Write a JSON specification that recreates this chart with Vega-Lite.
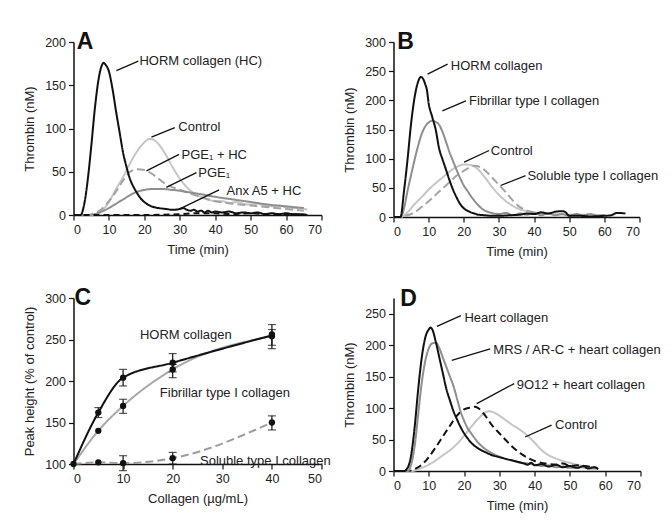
{
 "$schema": "https://vega.github.io/schema/vega-lite/v6.json",
 "columns": 2,
 "spacing": {"row": 81, "column": 72},
 "bounds": "flush",
 "padding": {"left": 23.5, "top": 31, "right": 0, "bottom": 0},
 "background": "white",
 "resolve": {"scale": {"color": "independent", "strokeDash": "independent"}},
 "config": {
  "font": "Liberation Sans",
  "view": {"stroke": null},
  "axis": {"grid": false, "domainColor": "#111", "domainWidth": 1.5, "tickColor": "#111", "tickWidth": 1.2, "tickSize": 5, "labelFontSize": 12.5, "labelColor": "#222", "labelFont": "Liberation Sans", "titleFont": "Liberation Sans", "titleFontSize": 13, "titleFontWeight": "normal", "titleColor": "#222", "labelPadding": 3, "titlePadding": 8, "labelOverlap": false},
  "text": {"font": "Liberation Sans", "fontSize": 13, "color": "#222"},
  "rule": {"color": "#111", "strokeWidth": 1.3}
 },
 "concat": [
  {
   "width": 248, "height": 173,
   "encoding": {
    "x": {"field": "x", "type": "quantitative", "title": "Time (min)", "scale": {"domain": [0, 70], "nice": false}, "axis": {"values": [0,10,20,30,40,50,60,70]}},
    "y": {"field": "y", "type": "quantitative", "title": "Thrombin (nM)", "scale": {"domain": [0, 200], "nice": false}, "axis": {"values": [0,50,100,150,200]}}
   },
   "layer": [
    {
     "data": {"values": [
      {"s":"A Control","x":0,"y":0},{"s":"A Control","x":5,"y":0},{"s":"A Control","x":8,"y":5},{"s":"A Control","x":10,"y":15},{"s":"A Control","x":12,"y":30},{"s":"A Control","x":14,"y":44},{"s":"A Control","x":16,"y":60},{"s":"A Control","x":18,"y":74},{"s":"A Control","x":20,"y":84},{"s":"A Control","x":21.5,"y":88},{"s":"A Control","x":23,"y":86},{"s":"A Control","x":24,"y":82},{"s":"A Control","x":26,"y":70},{"s":"A Control","x":28,"y":55},{"s":"A Control","x":30,"y":42},{"s":"A Control","x":32,"y":32},{"s":"A Control","x":34,"y":25},{"s":"A Control","x":36,"y":21},{"s":"A Control","x":38,"y":18},{"s":"A Control","x":40,"y":16},{"s":"A Control","x":42,"y":16},{"s":"A Control","x":44,"y":14},{"s":"A Control","x":46,"y":15},{"s":"A Control","x":48,"y":13},{"s":"A Control","x":50,"y":12},{"s":"A Control","x":52,"y":13},{"s":"A Control","x":54,"y":11},{"s":"A Control","x":56,"y":10},{"s":"A Control","x":58,"y":11},{"s":"A Control","x":60,"y":9},{"s":"A Control","x":62,"y":8},{"s":"A Control","x":64,"y":8},{"s":"A Control","x":66,"y":6},
      {"s":"PGE1 + HC","x":0,"y":0},{"s":"PGE1 + HC","x":4,"y":0},{"s":"PGE1 + HC","x":6,"y":2},{"s":"PGE1 + HC","x":8,"y":7},{"s":"PGE1 + HC","x":10,"y":16},{"s":"PGE1 + HC","x":12,"y":27},{"s":"PGE1 + HC","x":14,"y":40},{"s":"PGE1 + HC","x":16,"y":50},{"s":"PGE1 + HC","x":18,"y":53},{"s":"PGE1 + HC","x":20,"y":52},{"s":"PGE1 + HC","x":22,"y":48},{"s":"PGE1 + HC","x":24,"y":42},{"s":"PGE1 + HC","x":26,"y":36},{"s":"PGE1 + HC","x":28,"y":32},{"s":"PGE1 + HC","x":30,"y":29},{"s":"PGE1 + HC","x":32,"y":26},{"s":"PGE1 + HC","x":35,"y":22},{"s":"PGE1 + HC","x":38,"y":18},{"s":"PGE1 + HC","x":40,"y":16},{"s":"PGE1 + HC","x":45,"y":13},{"s":"PGE1 + HC","x":50,"y":11},{"s":"PGE1 + HC","x":55,"y":9},{"s":"PGE1 + HC","x":60,"y":7},{"s":"PGE1 + HC","x":65,"y":5},
      {"s":"PGE1","x":0,"y":0},{"s":"PGE1","x":4,"y":0},{"s":"PGE1","x":6,"y":1},{"s":"PGE1","x":8,"y":4},{"s":"PGE1","x":10,"y":8},{"s":"PGE1","x":12,"y":13},{"s":"PGE1","x":14,"y":18},{"s":"PGE1","x":16,"y":23},{"s":"PGE1","x":18,"y":27},{"s":"PGE1","x":20,"y":29},{"s":"PGE1","x":22,"y":30},{"s":"PGE1","x":25,"y":30},{"s":"PGE1","x":28,"y":29},{"s":"PGE1","x":30,"y":28},{"s":"PGE1","x":33,"y":26},{"s":"PGE1","x":36,"y":24},{"s":"PGE1","x":40,"y":21},{"s":"PGE1","x":45,"y":18},{"s":"PGE1","x":50,"y":15},{"s":"PGE1","x":55,"y":12},{"s":"PGE1","x":60,"y":10},{"s":"PGE1","x":65,"y":8},
      {"s":"Anx A5 + HC","x":0,"y":0},{"s":"Anx A5 + HC","x":10,"y":0},{"s":"Anx A5 + HC","x":20,"y":0},{"s":"Anx A5 + HC","x":30,"y":1},{"s":"Anx A5 + HC","x":35,"y":2},{"s":"Anx A5 + HC","x":40,"y":2},{"s":"Anx A5 + HC","x":45,"y":1},{"s":"Anx A5 + HC","x":50,"y":2},{"s":"Anx A5 + HC","x":55,"y":1},{"s":"Anx A5 + HC","x":60,"y":1},{"s":"Anx A5 + HC","x":65,"y":0},
      {"s":"A HORM","x":0,"y":0},{"s":"A HORM","x":2,"y":0},{"s":"A HORM","x":3,"y":12},{"s":"A HORM","x":4,"y":40},{"s":"A HORM","x":5,"y":79},{"s":"A HORM","x":6,"y":122},{"s":"A HORM","x":7,"y":155},{"s":"A HORM","x":8,"y":173},{"s":"A HORM","x":8.5,"y":176},{"s":"A HORM","x":9,"y":174},{"s":"A HORM","x":10,"y":166},{"s":"A HORM","x":11,"y":146},{"s":"A HORM","x":12,"y":120},{"s":"A HORM","x":13,"y":96},{"s":"A HORM","x":14,"y":72},{"s":"A HORM","x":15,"y":55},{"s":"A HORM","x":16,"y":41},{"s":"A HORM","x":17,"y":32},{"s":"A HORM","x":18,"y":25},{"s":"A HORM","x":19,"y":19},{"s":"A HORM","x":20,"y":15},{"s":"A HORM","x":21,"y":12},{"s":"A HORM","x":22,"y":10},{"s":"A HORM","x":24,"y":8},{"s":"A HORM","x":26,"y":7},{"s":"A HORM","x":28,"y":6},{"s":"A HORM","x":30,"y":7},{"s":"A HORM","x":31,"y":8},{"s":"A HORM","x":32,"y":6},{"s":"A HORM","x":33,"y":5},{"s":"A HORM","x":34,"y":6},{"s":"A HORM","x":35,"y":4},{"s":"A HORM","x":36,"y":5},{"s":"A HORM","x":37,"y":3},{"s":"A HORM","x":38,"y":5},{"s":"A HORM","x":39,"y":3},{"s":"A HORM","x":40,"y":4},{"s":"A HORM","x":42,"y":3},{"s":"A HORM","x":44,"y":4},{"s":"A HORM","x":46,"y":2},{"s":"A HORM","x":48,"y":3},{"s":"A HORM","x":50,"y":2},{"s":"A HORM","x":52,"y":3},{"s":"A HORM","x":54,"y":1},{"s":"A HORM","x":56,"y":2},{"s":"A HORM","x":58,"y":1},{"s":"A HORM","x":60,"y":2},{"s":"A HORM","x":62,"y":1},{"s":"A HORM","x":64,"y":1},{"s":"A HORM","x":66,"y":0}
     ]},
     "mark": {"type": "line", "strokeWidth": 2, "interpolate": "monotone"},
     "encoding": {
      "color": {"field": "s", "type": "nominal", "legend": null, "scale": {"domain": ["A Control","PGE1 + HC","PGE1","Anx A5 + HC","A HORM"], "range": ["#c6c6c6","#a4a4a4","#8e8e8e","#111111","#111111"]}},
      "strokeDash": {"field": "s", "type": "nominal", "legend": null, "scale": {"domain": ["A Control","PGE1 + HC","PGE1","Anx A5 + HC","A HORM"], "range": [[1,0],[8,4],[1,0],[6,4],[1,0]]}}
     }
    },
    {
     "data": {"values": [
      {"x":12.1,"y":167,"x2":18.3,"y2":178},
      {"x":22.0,"y":90,"x2":28.6,"y2":101},
      {"x":20.6,"y":51,"x2":29.8,"y2":70},
      {"x":26.2,"y":32,"x2":34.7,"y2":49},
      {"x":30,"y":7,"x2":41.1,"y2":29}
     ]},
     "mark": {"type": "rule"},
     "encoding": {"x2": {"field": "x2"}, "y2": {"field": "y2"}}
    },
    {
     "data": {"values": [
      {"x":18.6,"y":178,"label":"HORM collagen (HC)"},
      {"x":29.6,"y":102,"label":"Control"},
      {"x":30.5,"y":69,"label":"PGE₁ + HC"},
      {"x":35.2,"y":49,"label":"PGE₁"},
      {"x":43.2,"y":28,"label":"Anx A5 + HC"}
     ]},
     "mark": {"type": "text", "align": "left", "baseline": "middle"},
     "encoding": {"text": {"field": "label"}}
    },
    {
     "data": {"values": [{"x":0.9,"y":200,"label":"A"}]},
     "mark": {"type": "text", "align": "left", "baseline": "middle", "fontSize": 23, "fontWeight": "bold", "color": "#111"},
     "encoding": {"text": {"field": "label"}}
    }
   ]
  },
  {
   "width": 246, "height": 175,
   "encoding": {
    "x": {"field": "x", "type": "quantitative", "title": "Time (min)", "scale": {"domain": [0, 70], "nice": false}, "axis": {"values": [0,10,20,30,40,50,60,70]}},
    "y": {"field": "y", "type": "quantitative", "title": "Thrombin (nM)", "scale": {"domain": [0, 300], "nice": false}, "axis": {"values": [0,50,100,150,200,250,300]}}
   },
   "layer": [
    {
     "data": {"values": [
      {"s":"B Control","x":0,"y":0},{"s":"B Control","x":2,"y":0},{"s":"B Control","x":4,"y":8},{"s":"B Control","x":6,"y":22},{"s":"B Control","x":8,"y":34},{"s":"B Control","x":10,"y":47},{"s":"B Control","x":12,"y":58},{"s":"B Control","x":14,"y":68},{"s":"B Control","x":16,"y":78},{"s":"B Control","x":18,"y":86},{"s":"B Control","x":20,"y":90},{"s":"B Control","x":22,"y":89},{"s":"B Control","x":24,"y":82},{"s":"B Control","x":26,"y":68},{"s":"B Control","x":28,"y":52},{"s":"B Control","x":30,"y":38},{"s":"B Control","x":32,"y":27},{"s":"B Control","x":34,"y":19},{"s":"B Control","x":36,"y":13},{"s":"B Control","x":38,"y":10},{"s":"B Control","x":40,"y":8},{"s":"B Control","x":43,"y":6},{"s":"B Control","x":46,"y":5},{"s":"B Control","x":50,"y":4},{"s":"B Control","x":55,"y":4},{"s":"B Control","x":60,"y":3},
      {"s":"B Soluble","x":0,"y":0},{"s":"B Soluble","x":2,"y":0},{"s":"B Soluble","x":4,"y":3},{"s":"B Soluble","x":6,"y":8},{"s":"B Soluble","x":8,"y":17},{"s":"B Soluble","x":10,"y":27},{"s":"B Soluble","x":12,"y":38},{"s":"B Soluble","x":14,"y":49},{"s":"B Soluble","x":16,"y":60},{"s":"B Soluble","x":18,"y":71},{"s":"B Soluble","x":20,"y":79},{"s":"B Soluble","x":22,"y":86},{"s":"B Soluble","x":23,"y":88},{"s":"B Soluble","x":24,"y":87},{"s":"B Soluble","x":26,"y":80},{"s":"B Soluble","x":28,"y":68},{"s":"B Soluble","x":30,"y":55},{"s":"B Soluble","x":32,"y":42},{"s":"B Soluble","x":34,"y":28},{"s":"B Soluble","x":36,"y":17},{"s":"B Soluble","x":38,"y":11},{"s":"B Soluble","x":40,"y":8},{"s":"B Soluble","x":43,"y":6},{"s":"B Soluble","x":45,"y":5},
      {"s":"B Fibrillar","x":0,"y":0},{"s":"B Fibrillar","x":2,"y":0},{"s":"B Fibrillar","x":3,"y":15},{"s":"B Fibrillar","x":4,"y":45},{"s":"B Fibrillar","x":5,"y":72},{"s":"B Fibrillar","x":6,"y":98},{"s":"B Fibrillar","x":7,"y":122},{"s":"B Fibrillar","x":8,"y":142},{"s":"B Fibrillar","x":9,"y":155},{"s":"B Fibrillar","x":10,"y":162},{"s":"B Fibrillar","x":11,"y":165},{"s":"B Fibrillar","x":12,"y":163},{"s":"B Fibrillar","x":13,"y":158},{"s":"B Fibrillar","x":14,"y":145},{"s":"B Fibrillar","x":15,"y":128},{"s":"B Fibrillar","x":16,"y":110},{"s":"B Fibrillar","x":17,"y":95},{"s":"B Fibrillar","x":18,"y":80},{"s":"B Fibrillar","x":19,"y":66},{"s":"B Fibrillar","x":20,"y":54},{"s":"B Fibrillar","x":21,"y":45},{"s":"B Fibrillar","x":22,"y":36},{"s":"B Fibrillar","x":23,"y":28},{"s":"B Fibrillar","x":24,"y":21},{"s":"B Fibrillar","x":25,"y":15},{"s":"B Fibrillar","x":26,"y":11},{"s":"B Fibrillar","x":28,"y":7},{"s":"B Fibrillar","x":30,"y":5},{"s":"B Fibrillar","x":32,"y":7},{"s":"B Fibrillar","x":34,"y":3},{"s":"B Fibrillar","x":36,"y":6},{"s":"B Fibrillar","x":38,"y":4},{"s":"B Fibrillar","x":40,"y":7},{"s":"B Fibrillar","x":42,"y":3},{"s":"B Fibrillar","x":44,"y":6},{"s":"B Fibrillar","x":46,"y":3},{"s":"B Fibrillar","x":48,"y":5},{"s":"B Fibrillar","x":50,"y":2},{"s":"B Fibrillar","x":52,"y":5},{"s":"B Fibrillar","x":54,"y":3},{"s":"B Fibrillar","x":56,"y":5},{"s":"B Fibrillar","x":58,"y":2},{"s":"B Fibrillar","x":60,"y":4},
      {"s":"B HORM","x":0,"y":0},{"s":"B HORM","x":2,"y":0},{"s":"B HORM","x":3,"y":45},{"s":"B HORM","x":4,"y":99},{"s":"B HORM","x":5,"y":160},{"s":"B HORM","x":6,"y":205},{"s":"B HORM","x":7,"y":232},{"s":"B HORM","x":7.8,"y":240},{"s":"B HORM","x":8.5,"y":236},{"s":"B HORM","x":9,"y":228},{"s":"B HORM","x":9.5,"y":218},{"s":"B HORM","x":10,"y":195},{"s":"B HORM","x":11,"y":172},{"s":"B HORM","x":12,"y":150},{"s":"B HORM","x":13,"y":117},{"s":"B HORM","x":14,"y":98},{"s":"B HORM","x":15,"y":80},{"s":"B HORM","x":16,"y":62},{"s":"B HORM","x":17,"y":46},{"s":"B HORM","x":18,"y":33},{"s":"B HORM","x":19,"y":22},{"s":"B HORM","x":20,"y":15},{"s":"B HORM","x":21,"y":11},{"s":"B HORM","x":22,"y":8},{"s":"B HORM","x":23,"y":6},{"s":"B HORM","x":24,"y":4},{"s":"B HORM","x":26,"y":3},{"s":"B HORM","x":28,"y":2},{"s":"B HORM","x":30,"y":2},{"s":"B HORM","x":33,"y":3},{"s":"B HORM","x":36,"y":4},{"s":"B HORM","x":38,"y":6},{"s":"B HORM","x":40,"y":5},{"s":"B HORM","x":42,"y":8},{"s":"B HORM","x":44,"y":6},{"s":"B HORM","x":46,"y":9},{"s":"B HORM","x":48,"y":10},{"s":"B HORM","x":49,"y":8},{"s":"B HORM","x":50,"y":2},{"s":"B HORM","x":53,"y":2},{"s":"B HORM","x":56,"y":1},{"s":"B HORM","x":60,"y":2},{"s":"B HORM","x":62,"y":3},{"s":"B HORM","x":63,"y":6},{"s":"B HORM","x":64,"y":7},{"s":"B HORM","x":66,"y":6}
     ]},
     "mark": {"type": "line", "strokeWidth": 2, "interpolate": "monotone"},
     "encoding": {
      "color": {"field": "s", "type": "nominal", "legend": null, "scale": {"domain": ["B Control","B Soluble","B Fibrillar","B HORM"], "range": ["#c6c6c6","#a4a4a4","#8e8e8e","#111111"]}},
      "strokeDash": {"field": "s", "type": "nominal", "legend": null, "scale": {"domain": ["B Control","B Soluble","B Fibrillar","B HORM"], "range": [[1,0],[8,4],[1,0],[1,0]]}}
     }
    },
    {
     "data": {"values": [
      {"x":9.7,"y":245,"x2":15.4,"y2":262},
      {"x":13.9,"y":182,"x2":20.6,"y2":199},
      {"x":20.1,"y":94,"x2":27.2,"y2":114},
      {"x":30.5,"y":54,"x2":37.6,"y2":71}
     ]},
     "mark": {"type": "rule"},
     "encoding": {"x2": {"field": "x2"}, "y2": {"field": "y2"}}
    },
    {
     "data": {"values": [
      {"x":16.3,"y":259,"label":"HORM collagen"},
      {"x":21.5,"y":199,"label":"Fibrillar type I collagen"},
      {"x":27.7,"y":114,"label":"Control"},
      {"x":38.1,"y":71,"label":"Soluble type I collagen"}
     ]},
     "mark": {"type": "text", "align": "left", "baseline": "middle"},
     "encoding": {"text": {"field": "label"}}
    },
    {
     "data": {"values": [{"x":1.1,"y":300,"label":"B"}]},
     "mark": {"type": "text", "align": "left", "baseline": "middle", "fontSize": 23, "fontWeight": "bold", "color": "#111"},
     "encoding": {"text": {"field": "label"}}
    }
   ]
  },
  {
   "width": 248, "height": 166,
   "encoding": {
    "x": {"field": "x", "type": "quantitative", "title": "Collagen (µg/mL)", "scale": {"domain": [0, 50], "nice": false}, "axis": {"values": [0,10,20,30,40,50]}},
    "y": {"field": "y", "type": "quantitative", "title": "Peak height (% of control)", "scale": {"domain": [100, 300], "nice": false, "zero": false}, "axis": {"values": [100,150,200,250,300]}}
   },
   "layer": [
    {
     "data": {"values": [
      {"s":"C Soluble","x":0,"y":100},{"s":"C Soluble","x":5,"y":102},{"s":"C Soluble","x":10,"y":101},{"s":"C Soluble","x":20,"y":107},{"s":"C Soluble","x":40,"y":150},
      {"s":"C Fibrillar","x":0,"y":100},{"s":"C Fibrillar","x":5,"y":140},{"s":"C Fibrillar","x":10,"y":170},{"s":"C Fibrillar","x":20,"y":214},{"s":"C Fibrillar","x":40,"y":254},
      {"s":"C HORM","x":0,"y":100},{"s":"C HORM","x":5,"y":162},{"s":"C HORM","x":10,"y":204},{"s":"C HORM","x":20,"y":222},{"s":"C HORM","x":40,"y":255}
     ]},
     "mark": {"type": "line", "strokeWidth": 2, "interpolate": "monotone"},
     "encoding": {
      "color": {"field": "s", "type": "nominal", "legend": null, "scale": {"domain": ["C Soluble","C Fibrillar","C HORM"], "range": ["#9c9c9c","#a8a8a8","#111111"]}},
      "strokeDash": {"field": "s", "type": "nominal", "legend": null, "scale": {"domain": ["C Soluble","C Fibrillar","C HORM"], "range": [[8,4],[1,0],[1,0]]}}
     }
    },
    {
     "data": {"values": [
      {"x":5,"y":156,"y2":168},{"x":10,"y":194,"y2":214},{"x":20,"y":211,"y2":233},{"x":40,"y":243,"y2":268},
      {"x":10,"y":161,"y2":178},{"x":20,"y":204,"y2":220},{"x":40,"y":239,"y2":262},
      {"x":10,"y":92,"y2":110},{"x":20,"y":100,"y2":114},{"x":40,"y":141,"y2":158}
     ]},
     "mark": {"type": "rule", "color": "#111", "strokeWidth": 1.2},
     "encoding": {"y2": {"field": "y2"}}
    },
    {
     "data": {"values": [
      {"x":5,"y":156},{"x":10,"y":194},{"x":20,"y":211},{"x":40,"y":243},
      {"x":5,"y":168},{"x":10,"y":214},{"x":20,"y":233},{"x":40,"y":268},
      {"x":10,"y":161},{"x":20,"y":204},{"x":40,"y":239},
      {"x":10,"y":178},{"x":20,"y":220},{"x":40,"y":262},
      {"x":10,"y":92},{"x":20,"y":100},{"x":40,"y":141},
      {"x":10,"y":110},{"x":20,"y":114},{"x":40,"y":158}
     ]},
     "mark": {"type": "tick", "orient": "horizontal", "color": "#111", "size": 8, "thickness": 1.2},
     "encoding": {}
    },
    {
     "data": {"values": [
      {"x":0,"y":100},{"x":5,"y":102},{"x":10,"y":101},{"x":20,"y":107},{"x":40,"y":150},
      {"x":5,"y":140},{"x":10,"y":170},{"x":20,"y":214},{"x":40,"y":254},
      {"x":5,"y":162},{"x":10,"y":204},{"x":20,"y":222},{"x":40,"y":256}
     ]},
     "mark": {"type": "point", "filled": true, "color": "#111", "size": 40, "opacity": 1},
     "encoding": {}
    },
    {
     "data": {"values": [
      {"x":13.4,"y":255,"label":"HORM collagen"},
      {"x":17.4,"y":185,"label":"Fibrillar type I collagen"},
      {"x":25.5,"y":104,"label":"Soluble type I collagen"}
     ]},
     "mark": {"type": "text", "align": "left", "baseline": "middle"},
     "encoding": {"text": {"field": "label"}}
    },
    {
     "data": {"values": [{"x":0.2,"y":300,"label":"C"}]},
     "mark": {"type": "text", "align": "left", "baseline": "middle", "fontSize": 23, "fontWeight": "bold", "color": "#111"},
     "encoding": {"text": {"field": "label"}}
    }
   ]
  },
  {
   "width": 247, "height": 173,
   "encoding": {
    "x": {"field": "x", "type": "quantitative", "title": "Time (min)", "scale": {"domain": [0, 70], "nice": false}, "axis": {"values": [0,10,20,30,40,50,60,70]}},
    "y": {"field": "y", "type": "quantitative", "title": "Thrombin (nM)", "scale": {"domain": [0, 275], "nice": false}, "axis": {"values": [0,50,100,150,200,250]}}
   },
   "layer": [
    {
     "data": {"values": [
      {"s":"D Control","x":0,"y":0},{"s":"D Control","x":5,"y":0},{"s":"D Control","x":8,"y":5},{"s":"D Control","x":10,"y":10},{"s":"D Control","x":12,"y":17},{"s":"D Control","x":14,"y":25},{"s":"D Control","x":16,"y":33},{"s":"D Control","x":18,"y":43},{"s":"D Control","x":20,"y":56},{"s":"D Control","x":22,"y":70},{"s":"D Control","x":24,"y":83},{"s":"D Control","x":26,"y":93},{"s":"D Control","x":27,"y":95},{"s":"D Control","x":28,"y":94},{"s":"D Control","x":30,"y":88},{"s":"D Control","x":32,"y":80},{"s":"D Control","x":34,"y":72},{"s":"D Control","x":36,"y":65},{"s":"D Control","x":38,"y":56},{"s":"D Control","x":40,"y":45},{"s":"D Control","x":42,"y":33},{"s":"D Control","x":44,"y":25},{"s":"D Control","x":46,"y":20},{"s":"D Control","x":48,"y":16},{"s":"D Control","x":50,"y":13},{"s":"D Control","x":52,"y":10},{"s":"D Control","x":55,"y":7},{"s":"D Control","x":58,"y":5},
      {"s":"9O12","x":0,"y":0},{"s":"9O12","x":4,"y":0},{"s":"9O12","x":6,"y":3},{"s":"9O12","x":8,"y":10},{"s":"9O12","x":10,"y":22},{"s":"9O12","x":12,"y":38},{"s":"9O12","x":14,"y":55},{"s":"9O12","x":16,"y":72},{"s":"9O12","x":18,"y":88},{"s":"9O12","x":20,"y":98},{"s":"9O12","x":22,"y":101},{"s":"9O12","x":23,"y":102},{"s":"9O12","x":24,"y":100},{"s":"9O12","x":26,"y":88},{"s":"9O12","x":28,"y":72},{"s":"9O12","x":30,"y":60},{"s":"9O12","x":32,"y":48},{"s":"9O12","x":34,"y":37},{"s":"9O12","x":36,"y":28},{"s":"9O12","x":38,"y":21},{"s":"9O12","x":40,"y":16},{"s":"9O12","x":43,"y":12},{"s":"9O12","x":46,"y":10},{"s":"9O12","x":48,"y":12},{"s":"9O12","x":50,"y":8},{"s":"9O12","x":52,"y":9},{"s":"9O12","x":54,"y":8},{"s":"9O12","x":57,"y":6},
      {"s":"MRS","x":0,"y":0},{"s":"MRS","x":4,"y":0},{"s":"MRS","x":5,"y":10},{"s":"MRS","x":6,"y":40},{"s":"MRS","x":7,"y":90},{"s":"MRS","x":8,"y":140},{"s":"MRS","x":9,"y":175},{"s":"MRS","x":10,"y":195},{"s":"MRS","x":11,"y":203},{"s":"MRS","x":12,"y":204},{"s":"MRS","x":13,"y":195},{"s":"MRS","x":14,"y":180},{"s":"MRS","x":15,"y":165},{"s":"MRS","x":16,"y":150},{"s":"MRS","x":17,"y":135},{"s":"MRS","x":18,"y":115},{"s":"MRS","x":19,"y":95},{"s":"MRS","x":20,"y":80},{"s":"MRS","x":21,"y":68},{"s":"MRS","x":22,"y":60},{"s":"MRS","x":24,"y":45},{"s":"MRS","x":26,"y":35},{"s":"MRS","x":28,"y":28},{"s":"MRS","x":30,"y":23},{"s":"MRS","x":32,"y":19},{"s":"MRS","x":34,"y":16},{"s":"MRS","x":36,"y":13},{"s":"MRS","x":38,"y":12},{"s":"MRS","x":40,"y":10},{"s":"MRS","x":42,"y":8},{"s":"MRS","x":44,"y":9},{"s":"MRS","x":46,"y":6},{"s":"MRS","x":48,"y":7},{"s":"MRS","x":50,"y":5},{"s":"MRS","x":53,"y":6},{"s":"MRS","x":56,"y":4},{"s":"MRS","x":58,"y":4},
      {"s":"Heart","x":0,"y":0},{"s":"Heart","x":3,"y":0},{"s":"Heart","x":4,"y":5},{"s":"Heart","x":5,"y":25},{"s":"Heart","x":6,"y":70},{"s":"Heart","x":7,"y":130},{"s":"Heart","x":8,"y":180},{"s":"Heart","x":9,"y":212},{"s":"Heart","x":10,"y":225},{"s":"Heart","x":10.5,"y":228},{"s":"Heart","x":11,"y":225},{"s":"Heart","x":12,"y":205},{"s":"Heart","x":13,"y":180},{"s":"Heart","x":14,"y":155},{"s":"Heart","x":15,"y":130},{"s":"Heart","x":16,"y":112},{"s":"Heart","x":17,"y":95},{"s":"Heart","x":18,"y":82},{"s":"Heart","x":19,"y":70},{"s":"Heart","x":20,"y":60},{"s":"Heart","x":21,"y":52},{"s":"Heart","x":22,"y":45},{"s":"Heart","x":24,"y":36},{"s":"Heart","x":26,"y":30},{"s":"Heart","x":28,"y":25},{"s":"Heart","x":30,"y":22},{"s":"Heart","x":32,"y":19},{"s":"Heart","x":35,"y":15},{"s":"Heart","x":37,"y":12},{"s":"Heart","x":38,"y":10},{"s":"Heart","x":39,"y":13},{"s":"Heart","x":40,"y":9},{"s":"Heart","x":42,"y":11},{"s":"Heart","x":44,"y":7},{"s":"Heart","x":46,"y":10},{"s":"Heart","x":48,"y":6},{"s":"Heart","x":50,"y":8},{"s":"Heart","x":52,"y":5},{"s":"Heart","x":54,"y":8},{"s":"Heart","x":55,"y":4},{"s":"Heart","x":57,"y":6},{"s":"Heart","x":58,"y":3}
     ]},
     "mark": {"type": "line", "strokeWidth": 2, "interpolate": "monotone"},
     "encoding": {
      "color": {"field": "s", "type": "nominal", "legend": null, "scale": {"domain": ["D Control","9O12","MRS","Heart"], "range": ["#c6c6c6","#111111","#8e8e8e","#111111"]}},
      "strokeDash": {"field": "s", "type": "nominal", "legend": null, "scale": {"domain": ["D Control","9O12","MRS","Heart"], "range": [[1,0],[7,4],[1,0],[1,0]]}}
     }
    },
    {
     "data": {"values": [
      {"x":12.3,"y":230,"x2":19.1,"y2":247},
      {"x":16.5,"y":176,"x2":27.4,"y2":194},
      {"x":23.6,"y":107,"x2":34.2,"y2":139},
      {"x":37.3,"y":54,"x2":44.8,"y2":73}
     ]},
     "mark": {"type": "rule"},
     "encoding": {"x2": {"field": "x2"}, "y2": {"field": "y2"}}
    },
    {
     "data": {"values": [
      {"x":20.1,"y":244,"label":"Heart collagen"},
      {"x":28.3,"y":192,"label":"MRS / AR-C + heart collagen"},
      {"x":34.9,"y":136,"label":"9O12 + heart collagen"},
      {"x":45.8,"y":73,"label":"Control"}
     ]},
     "mark": {"type": "text", "align": "left", "baseline": "middle"},
     "encoding": {"text": {"field": "label"}}
    },
    {
     "data": {"values": [{"x":1.9,"y":273,"label":"D"}]},
     "mark": {"type": "text", "align": "left", "baseline": "middle", "fontSize": 23, "fontWeight": "bold", "color": "#111"},
     "encoding": {"text": {"field": "label"}}
    }
   ]
  }
 ]
}
